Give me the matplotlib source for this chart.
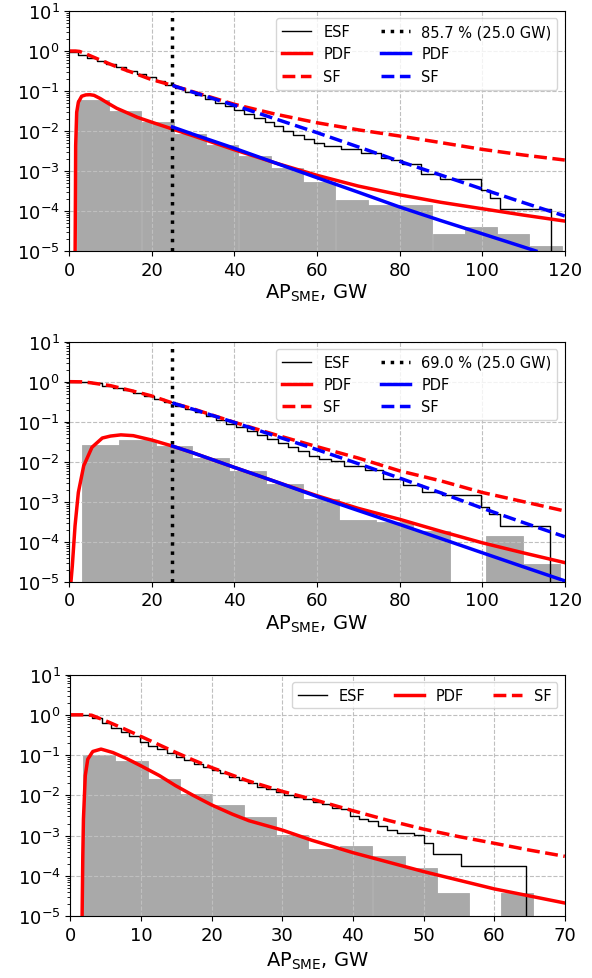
import matplotlib
matplotlib.use("Agg")
import matplotlib.pyplot as plt
from matplotlib.ticker import LogLocator, NullFormatter

# ---------------- panel 1 ----------------
p1_bin_left = [1.8, 9.6, 17.5, 25.3, 33.1, 41.0, 48.8, 56.6, 64.5, 72.3, 80.1, 88.0, 95.8, 103.6, 111.5]
p1_bin_width = 7.83
p1_hist = [0.0596, 0.031, 0.0168, 0.0086, 0.00455, 0.00233, 0.00117, 5.2e-4, 1.87e-4,
           1.4e-4, 1.4e-4, 2.66e-5, 4.0e-5, 2.6e-5, 1.33e-5]

p1_esf_x = [0, 2.1, 4.3, 6.7, 9.0, 11.4, 13.8, 16.3, 18.5, 21.0, 23.2, 25.7, 28.0, 30.5, 32.9,
            35.2, 37.7, 40.0, 42.3, 44.8, 47.3, 49.6, 51.8, 54.3, 56.8, 59.3, 61.8, 65.7, 70.7,
            75.6, 78.0, 80.5, 85.2, 89.9, 99.8, 101.8, 104.3, 116.6]
p1_esf_y = [0.93, 0.79, 0.67, 0.55, 0.47, 0.39, 0.32, 0.26, 0.22, 0.178, 0.145, 0.117, 0.095,
            0.079, 0.065, 0.051, 0.042, 0.033, 0.027, 0.0214, 0.017, 0.0132, 0.0102, 0.0079,
            0.0063, 0.005, 0.0042, 0.0035, 0.00287, 0.00215, 0.00185, 0.00152, 8.3e-4, 6.4e-4,
            3.35e-4, 2.15e-4, 1.1e-4, 1e-7]

p1_pdf_x = [1.42, 1.5, 1.55, 1.8, 2.2, 3.0, 4.0, 5.0, 6.0, 7.5, 9.6, 11.5, 13.7, 16.5, 20, 25,
            30, 40, 50, 60, 70, 80, 90, 100, 110, 120]
p1_pdf_y = [1e-5, 3.2e-4, 4.3e-3, 0.0295, 0.0525, 0.074, 0.080, 0.081, 0.078, 0.065, 0.048,
            0.037, 0.0295, 0.022, 0.0166, 0.0112, 0.0076, 0.0034, 0.00158, 7.8e-4, 4.2e-4,
            2.55e-4, 1.65e-4, 1.14e-4, 7.9e-5, 5.6e-5]
p1_sf_x = [0, 1.5, 2.5, 4, 7.5, 11.4, 15.4, 19.5, 25, 30, 40, 50, 60, 70, 80, 90, 100, 110, 120]
p1_sf_y = [1.0, 1.0, 0.977, 0.85, 0.596, 0.407, 0.288, 0.2, 0.138, 0.0955, 0.0465, 0.0263,
           0.0161, 0.0107, 0.0075, 0.00513, 0.00348, 0.00251, 0.00188]
p1_tail_pdf_x = [25, 30, 40, 50, 60, 70, 80, 90, 100, 110, 113]
p1_tail_pdf_y = [0.0126, 0.0083, 0.0037, 0.00158, 6.8e-4, 2.95e-4, 1.26e-4, 5.75e-5, 2.7e-5,
                 1.26e-5, 1e-5]
p1_tail_sf_x = [25, 30, 40, 50, 60, 70, 80, 90, 100, 110, 120]
p1_tail_sf_y = [0.138, 0.0933, 0.0439, 0.02, 0.0091, 0.004, 0.00175, 7.9e-4, 3.55e-4, 1.62e-4,
                7.5e-5]
p1_label = "85.7 % (25.0 GW)"

# ---------------- panel 2 ----------------
p2_bin_left = [3.07, 12.0, 20.9, 29.8, 38.7, 47.6, 56.5, 65.4, 74.3, 83.2, 92.1, 101.0, 109.9]
p2_bin_width = 8.9
p2_hist = [0.0261, 0.0355, 0.0247, 0.0121, 0.00573, 0.00282, 0.00117, 3.5e-4, 3.16e-4, 1.9e-4,
           0, 1.39e-4, 2.7e-5]

p2_esf_x = [0, 5.5, 8, 10.5, 13, 15.5, 18, 20.5, 23, 25.5, 28, 30.5, 33, 35.5, 38, 40.5, 43,
            45.5, 48, 50.5, 53, 55.5, 58, 60.5, 63.3, 66.5, 71.5, 76, 80.9, 85.4, 90.3, 99.7,
            101.7, 104.2, 116.4]
p2_esf_y = [1.0, 0.93, 0.79, 0.695, 0.607, 0.52, 0.447, 0.369, 0.304, 0.251, 0.207, 0.171,
            0.141, 0.112, 0.0875, 0.0721, 0.0585, 0.0465, 0.0369, 0.0293, 0.0228, 0.0181,
            0.0141, 0.0117, 0.0104, 0.0078, 0.0062, 0.00376, 0.00256, 0.00175, 0.00147,
            7.5e-4, 4.8e-4, 2.47e-4, 1e-7]

p2_pdf_x = [0.41, 0.74, 1.4, 2.2, 3.5, 5.5, 8, 10, 12.5, 15.5, 20, 25, 30, 40, 50, 60, 70, 80,
            90, 100, 110, 120]
p2_pdf_y = [1e-5, 2.5e-5, 2.5e-4, 1.7e-3, 7.9e-3, 0.0229, 0.039, 0.0437, 0.0468, 0.0447,
            0.0347, 0.0245, 0.0166, 0.0072, 0.00316, 0.00141, 6.8e-4, 3.63e-4, 1.82e-4,
            9.4e-5, 5.25e-5, 3.0e-5]
p2_sf_x = [0, 3, 5, 10, 15, 20, 25, 30, 40, 50, 60, 70, 80, 90, 100, 110, 120]
p2_sf_y = [1.0, 0.99, 0.944, 0.794, 0.596, 0.439, 0.293, 0.209, 0.0962, 0.0468, 0.0237,
           0.0123, 0.0059, 0.00331, 0.0017, 0.001, 5.85e-4]
p2_tail_pdf_x = [25, 30, 40, 50, 60, 70, 80, 90, 100, 110, 120]
p2_tail_pdf_y = [0.0245, 0.0166, 0.0072, 0.00316, 0.00135, 6.0e-4, 2.7e-4, 1.2e-4, 5.3e-5,
                 2.35e-5, 1.05e-5]
p2_tail_sf_x = [25, 30, 40, 50, 60, 70, 80, 90, 100, 110, 120]
p2_tail_sf_y = [0.293, 0.204, 0.0955, 0.0437, 0.02, 0.0089, 0.0039, 0.00166, 6.9e-4, 3.0e-4,
                1.33e-4]
p2_label = "69.0 % (25.0 GW)"

# ---------------- panel 3 ----------------
p3_bin_left = [1.82, 6.37, 10.9, 15.5, 20.0, 24.6, 29.1, 33.7, 38.2, 42.8, 47.3, 51.9, 56.4, 61.0]
p3_bin_width = 4.55
p3_hist = [0.098, 0.0697, 0.0254, 0.0106, 0.00565, 0.00296, 0.00106, 4.7e-4, 5.5e-4, 3.15e-4,
           1.57e-4, 3.9e-5, 0, 3.9e-5]

p3_esf_x = [0, 3.0, 4.5, 5.7, 7.1, 8.3, 9.8, 11.0, 12.3, 13.7, 15.0, 16.1, 17.5, 18.7, 20.0,
            21.2, 22.4, 23.9, 25.1, 26.4, 27.7, 29.1, 30.3, 31.7, 33.0, 34.3, 35.6, 37.0, 38.3,
            39.6, 40.9, 42.2, 43.5, 44.8, 46.2, 48.7, 50.0, 51.4, 55.3, 64.5]
p3_esf_y = [1.0, 0.83, 0.62, 0.476, 0.365, 0.29, 0.214, 0.17, 0.141, 0.11, 0.0875, 0.0752,
            0.0598, 0.0494, 0.0433, 0.0358, 0.0279, 0.024, 0.0199, 0.0164, 0.0144, 0.0119,
            0.0104, 0.00927, 0.0081, 0.00697, 0.006, 0.005, 0.00457, 0.00316, 0.00263,
            0.00229, 0.00178, 0.00141, 0.00117, 0.00102, 6.5e-4, 3.5e-4, 1.78e-4, 1e-7]

p3_pdf_x = [1.65, 1.75, 1.84, 2.1, 2.45, 3.16, 4.33, 6, 7.9, 10, 12.6, 14.9, 17.3, 20, 22.9,
            25.3, 30, 34.2, 38, 40, 50, 60, 70]
p3_pdf_y = [1e-5, 3.2e-4, 2.6e-3, 0.031, 0.079, 0.123, 0.141, 0.116, 0.083, 0.054, 0.031,
            0.0174, 0.0102, 0.0058, 0.00344, 0.00235, 0.00138, 7.7e-4, 4.85e-4, 3.8e-4,
            1.29e-4, 4.8e-5, 2.14e-5]
p3_sf_x = [0, 2, 3, 5, 7.5, 10, 12.5, 15, 17.5, 20, 25, 30, 35, 40, 45, 50, 55, 60, 65, 70]
p3_sf_y = [1.0, 1.0, 0.977, 0.708, 0.457, 0.29, 0.182, 0.115, 0.0741, 0.049, 0.0234, 0.0126,
           0.0074, 0.00417, 0.0024, 0.00146, 9.5e-4, 6.5e-4, 4.4e-4, 3.08e-4]

y_ticks = [1e-5, 1e-4, 1e-3, 1e-2, 1e-1, 1e0, 1e1]

fig = plt.figure(figsize=(5.92, 9.79), dpi=100)
boxes = [[0.117, 0.7426, 0.837, 0.2451],
         [0.117, 0.4048, 0.837, 0.2452],
         [0.119, 0.0630, 0.835, 0.2470]]


def base(ax, left, width, hist, xmax, xstep, pad):
    ax.bar(left, hist, width=width, align="edge", color="darkgray",
           edgecolor="darkgray", linewidth=0.6, zorder=1)
    ax.set_yscale("log")
    ax.set_ylim(1e-5, 10)
    ax.set_yticks(y_ticks)
    ax.yaxis.set_minor_locator(LogLocator(base=10, subs=range(2, 10), numticks=20))
    ax.yaxis.set_minor_formatter(NullFormatter())
    ax.set_xlim(0, xmax)
    ax.set_xticks(range(0, xmax + 1, xstep))
    ax.grid(True, ls="--", color="0.75", lw=0.8)
    ax.tick_params(labelsize=13)
    ax.set_xlabel("AP$_{\\mathrm{SME}}$, GW", fontsize=14, labelpad=pad)


# panel 1 and 2
for i, d in enumerate([
    (p1_bin_left, p1_bin_width, p1_hist, p1_esf_x, p1_esf_y, p1_pdf_x, p1_pdf_y, p1_sf_x,
     p1_sf_y, p1_tail_pdf_x, p1_tail_pdf_y, p1_tail_sf_x, p1_tail_sf_y, p1_label),
    (p2_bin_left, p2_bin_width, p2_hist, p2_esf_x, p2_esf_y, p2_pdf_x, p2_pdf_y, p2_sf_x,
     p2_sf_y, p2_tail_pdf_x, p2_tail_pdf_y, p2_tail_sf_x, p2_tail_sf_y, p2_label)]):
    ax = fig.add_axes(boxes[i])
    base(ax, d[0], d[1], d[2], 120, 20, 2)
    h1, = ax.plot(d[3], d[4], color="k", lw=1, drawstyle="steps-post", label="ESF")
    h2, = ax.plot(d[5], d[6], color="r", lw=2.5, label="PDF")
    h3, = ax.plot(d[7], d[8], color="r", lw=2.5, ls="--", label="SF")
    h4 = ax.axvline(25, color="k", ls=":", lw=2.5, label=d[13])
    h5, = ax.plot(d[9], d[10], color="b", lw=2.5, label="PDF")
    h6, = ax.plot(d[11], d[12], color="b", lw=2.5, ls="--", label="SF")
    ax.legend(handles=[h1, h2, h3, h4, h5, h6], ncol=2, loc="upper right", fontsize=10.5)

# panel 3
ax = fig.add_axes(boxes[2])
base(ax, p3_bin_left, p3_bin_width, p3_hist, 70, 10, 4)
ax.plot(p3_esf_x, p3_esf_y, color="k", lw=1, drawstyle="steps-post", label="ESF")
ax.plot(p3_pdf_x, p3_pdf_y, color="r", lw=2.5, label="PDF")
ax.plot(p3_sf_x, p3_sf_y, color="r", lw=2.5, ls="--", label="SF")
ax.legend(ncol=3, loc="upper right", fontsize=10.5)

fig.savefig("out.png", dpi=100)
